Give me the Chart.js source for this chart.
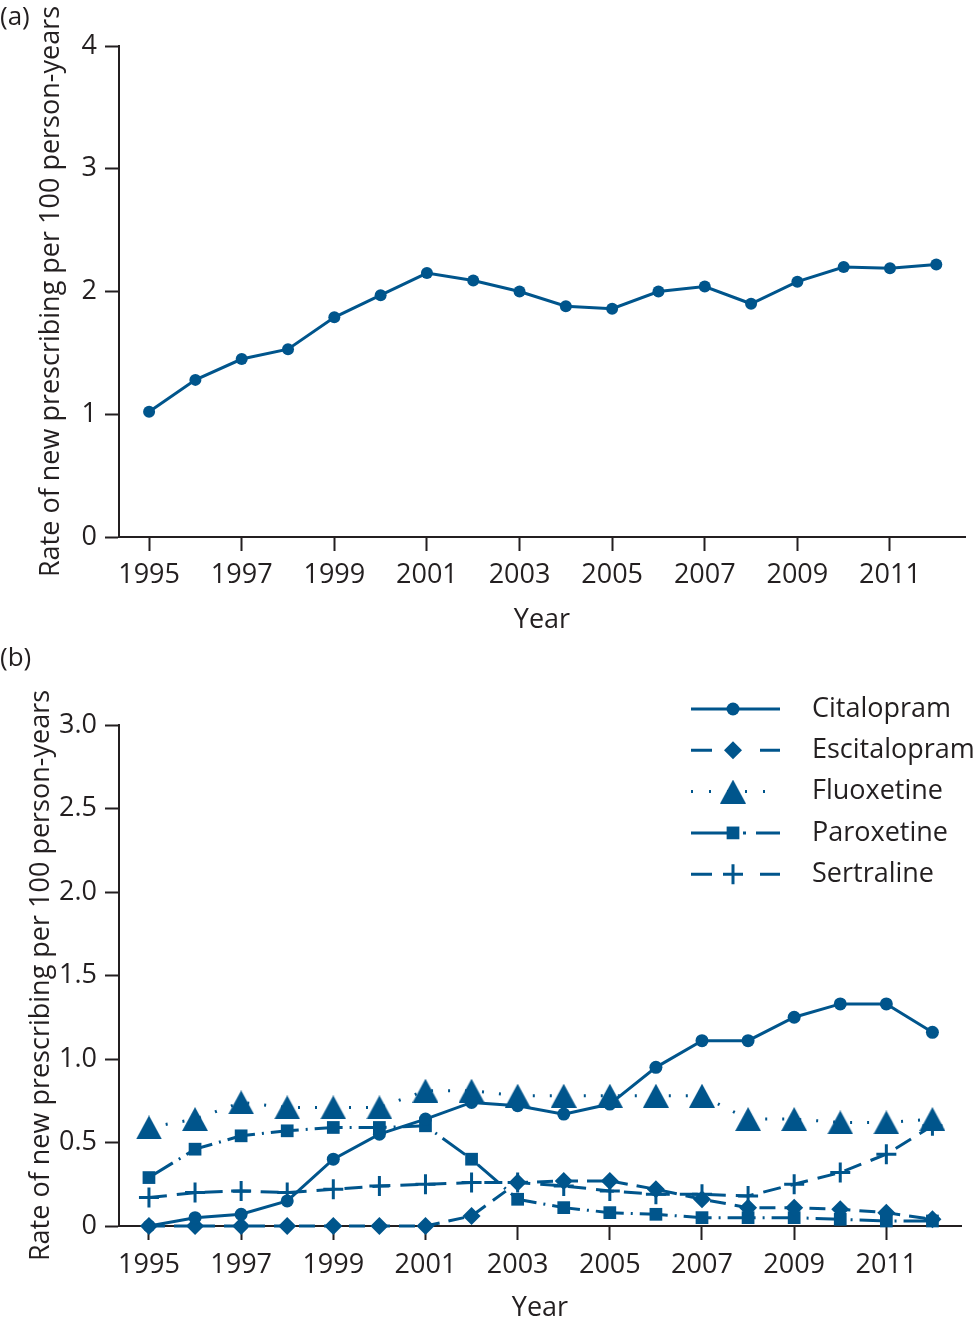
<!DOCTYPE html>
<html>
<head>
<meta charset="utf-8">
<script src="https://cdn.jsdelivr.net/npm/chart.js@4.4.1/dist/chart.umd.min.js"></script>
<style>
  html, body { margin: 0; padding: 0; background: #fff; }
  #wrap { position: relative; width: 974px; height: 1320px; font-family: "Open Sans", sans-serif; color: #231f20; }
  .panel { position: absolute; left: 0; }
  .tag { position: absolute; left: 0; font-size: 26px; line-height: 1; }
</style>
</head>
<body>
<div id="wrap">
  <canvas id="chart-a" class="panel" width="974" height="650" style="top:0"></canvas>
  <canvas id="chart-b" class="panel" width="974" height="670" style="top:650px"></canvas>
  <div class="tag" style="top:2px">(a)</div>
  <div class="tag" style="top:643px">(b)</div>
</div>
<script>
// data
const years = [1995, 1996, 1997, 1998, 1999, 2000, 2001, 2002, 2003, 2004, 2005, 2006, 2007, 2008, 2009, 2010, 2011, 2012];
const xTickYears = [1995, 1997, 1999, 2001, 2003, 2005, 2007, 2009, 2011];
const yTicksA = [0, 1, 2, 3, 4];
const yTicksB = [0, 0.5, 1.0, 1.5, 2.0, 2.5, 3.0];

const allNew = [1.02, 1.28, 1.45, 1.53, 1.79, 1.97, 2.15, 2.09, 2.00, 1.88, 1.86, 2.00, 2.04, 1.90, 2.08, 2.20, 2.19, 2.22];

const drugNames = ['Citalopram', 'Escitalopram', 'Fluoxetine', 'Paroxetine', 'Sertraline'];
const citalopram   = [0.00, 0.05, 0.07, 0.15, 0.40, 0.55, 0.64, 0.74, 0.72, 0.67, 0.73, 0.95, 1.11, 1.11, 1.25, 1.33, 1.33, 1.16];
const escitalopram = [0.00, 0.00, 0.00, 0.00, 0.00, 0.00, 0.00, 0.06, 0.26, 0.27, 0.27, 0.22, 0.16, 0.11, 0.11, 0.10, 0.08, 0.04];
const fluoxetine   = [0.59, 0.64, 0.74, 0.71, 0.71, 0.71, 0.81, 0.81, 0.78, 0.78, 0.78, 0.78, 0.78, 0.64, 0.64, 0.62, 0.62, 0.64];
const paroxetine   = [0.29, 0.46, 0.54, 0.57, 0.59, 0.59, 0.60, 0.40, 0.16, 0.11, 0.08, 0.07, 0.05, 0.05, 0.05, 0.04, 0.03, 0.03];
const sertraline   = [0.17, 0.20, 0.21, 0.20, 0.22, 0.24, 0.25, 0.26, 0.26, 0.24, 0.21, 0.19, 0.19, 0.18, 0.25, 0.32, 0.43, 0.60];

const INK = '#231f20';
const BLUE = '#00558c';
const FONT = '"Open Sans", sans-serif';
const Y_TITLE = 'Rate of new prescribing per 100 person-years';

const pairs = vals => years.map((yr, i) => ({ x: yr, y: vals[i] }));

// triangle drawn centred on its box, like the original markers
function triangleMarker() {
  const c = document.createElement('canvas');
  c.width = 26; c.height = 24;
  const g = c.getContext('2d');
  g.fillStyle = BLUE;
  g.beginPath(); g.moveTo(0, 24); g.lineTo(13, 0); g.lineTo(26, 24); g.closePath(); g.fill();
  return c;
}

function makeScales(yTicks, yMax, fmt, xAxisHeight, xTickPad, xTitlePad, yTitlePad) {
  const axisFont = { size: 27, family: FONT };
  const grid = { display: true, drawOnChartArea: false, drawTicks: true, tickLength: 14, tickWidth: 2, tickColor: INK };
  const border = { display: true, color: INK, width: 2 };
  return {
    x: {
      type: 'linear', min: 1994.35, max: 2012.62,
      afterBuildTicks: s => { s.ticks = xTickYears.map(v => ({ value: v })); },
      afterFit: s => { s.height = xAxisHeight; },
      border, grid,
      ticks: { autoSkip: false, maxRotation: 0, padding: xTickPad, color: INK, font: axisFont, callback: v => String(v) },
      title: { display: true, text: 'Year', color: INK, font: { size: 27, family: FONT, lineHeight: 1 }, padding: { top: 0, bottom: xTitlePad } }
    },
    y: {
      min: 0, max: yMax,
      afterBuildTicks: s => { s.ticks = yTicks.map(v => ({ value: v })); },
      afterFit: s => { s.width = 119; },
      border, grid,
      ticks: { padding: 8, color: INK, font: axisFont, callback: fmt },
      title: { display: true, text: Y_TITLE, color: INK, font: { size: 27, family: FONT, lineHeight: 1 }, padding: { top: yTitlePad, bottom: 0 } }
    }
  };
}

const baseLine = {
  borderColor: BLUE, backgroundColor: BLUE, borderWidth: 3, tension: 0,
  pointBackgroundColor: BLUE, pointBorderColor: BLUE, pointBorderWidth: 0, pointHoverRadius: 0, clip: false
};

new Chart(document.getElementById('chart-a'), {
  type: 'line',
  data: { datasets: [Object.assign({}, baseLine, { data: pairs(allNew), pointStyle: 'circle', pointRadius: 6 })] },
  options: {
    responsive: false, animation: false, events: [],
    layout: { padding: { left: 0, top: 46, right: 9, bottom: 0 } },
    plugins: { legend: { display: false }, tooltip: { enabled: false } },
    scales: makeScales(yTicksA, 4, v => String(v), 113, 8, 16, 38)
  }
});

// legend drawn as line sample + marker + name
const lineLegend = {
  id: 'lineLegend',
  afterDraw(chart) {
    const ctx = chart.ctx;
    chart.data.datasets.forEach((ds, i) => {
      const y = 59 + i * 41.3;
      ctx.save();
      ctx.strokeStyle = BLUE; ctx.fillStyle = BLUE; ctx.lineWidth = 3;
      ctx.setLineDash(ds.legendDash);
      ctx.beginPath(); ctx.moveTo(691, y); ctx.lineTo(780, y); ctx.stroke();
      ctx.setLineDash([]);
      ctx.lineWidth = ds.pointBorderWidth || 0;
      Chart.helpers.drawPoint(ctx, { pointStyle: ds.pointStyle, radius: ds.pointRadius, borderWidth: ds.pointBorderWidth || 0, rotation: 0 }, 733, y);
      ctx.fillStyle = INK;
      ctx.font = '27px ' + FONT;
      ctx.textBaseline = 'middle';
      ctx.fillText(ds.label, 812, y);
      ctx.restore();
    });
  }
};

const tri = triangleMarker();
const drugSeries = [citalopram, escitalopram, fluoxetine, paroxetine, sertraline];
const drugStyles = [
  { pointStyle: 'circle', pointRadius: 6.5, borderDash: [], legendDash: [] },
  { pointStyle: 'rectRot', pointRadius: 9, borderDash: [16, 9], legendDash: [21, 48] },
  { pointStyle: tri, pointRadius: 13, borderDash: [2, 15], legendDash: [2, 16] },
  { pointStyle: 'rect', pointRadius: 9, borderDash: [28, 7, 2, 7], legendDash: [42, 10, 3, 10, 30] },
  { pointStyle: 'cross', pointRadius: 10, pointBorderWidth: 3, borderDash: [18, 10], legendDash: [21, 48] }
];

new Chart(document.getElementById('chart-b'), {
  type: 'line',
  data: {
    datasets: drugNames.map((name, i) => Object.assign({}, baseLine, drugStyles[i], { label: name, data: pairs(drugSeries[i]) }))
  },
  options: {
    responsive: false, animation: false, events: [],
    layout: { padding: { left: 0, top: 75, right: 9, bottom: 0 } },
    plugins: { legend: { display: false }, tooltip: { enabled: false } },
    scales: makeScales(yTicksB, 3, v => (v === 0 ? '0' : v.toFixed(1)), 94, 9, -2, 28)
  },
  plugins: [lineLegend]
});
</script>
</body>
</html>
